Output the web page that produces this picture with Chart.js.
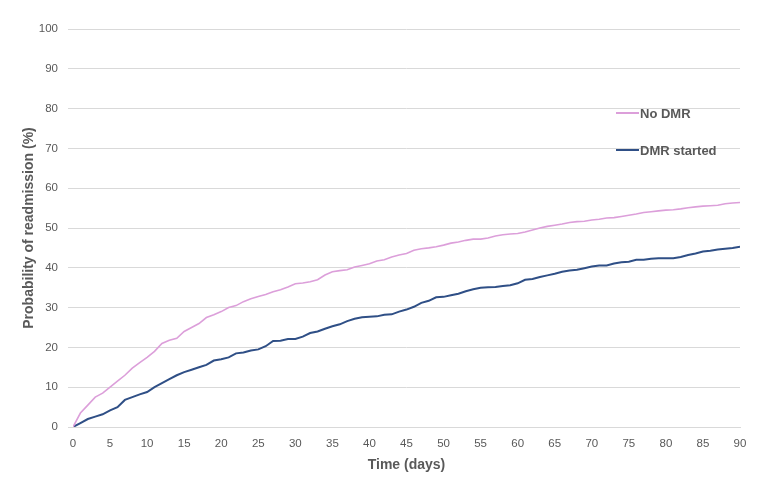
<!DOCTYPE html>
<html>
<head>
<meta charset="utf-8">
<script src="https://cdn.jsdelivr.net/npm/chart.js@4.4.1/dist/chart.umd.min.js"></script>
<style>
  html, body { margin: 0; padding: 0; background: #ffffff; }
  #wrap { width: 762px; height: 498px; position: relative; }
</style>
</head>
<body>
<div id="wrap"><canvas id="mainchart"></canvas></div>
<script>
const days = [0, 1, 2, 3, 4, 5, 6, 7, 8, 9, 10, 11, 12, 13, 14, 15, 16, 17, 18, 19,
  20, 21, 22, 23, 24, 25, 26, 27, 28, 29, 30, 31, 32, 33, 34, 35, 36, 37, 38, 39,
  40, 41, 42, 43, 44, 45, 46, 47, 48, 49, 50, 51, 52, 53, 54, 55, 56, 57, 58, 59,
  60, 61, 62, 63, 64, 65, 66, 67, 68, 69, 70, 71, 72, 73, 74, 75, 76, 77, 78, 79,
  80, 81, 82, 83, 84, 85, 86, 87, 88, 89, 90];

const noDmr = [0, 3.5, 5.5, 7.5, 8.5, 10, 11.5, 13, 14.8, 16.2,
  17.5, 19, 21, 21.8, 22.3, 24, 25, 26, 27.5, 28.2,
  29, 30, 30.5, 31.5, 32.2, 32.8, 33.3, 34, 34.5, 35.2,
  36, 36.2, 36.5, 37, 38.2, 39, 39.3, 39.5, 40.2, 40.6,
  41, 41.7, 42, 42.7, 43.2, 43.6, 44.4, 44.8, 45, 45.3,
  45.7, 46.2, 46.5, 46.9, 47.2, 47.2, 47.5, 48, 48.3, 48.5,
  48.6, 49, 49.5, 50, 50.4, 50.7, 51, 51.4, 51.6, 51.7,
  52, 52.2, 52.5, 52.6, 52.9, 53.2, 53.5, 53.9, 54.1, 54.3,
  54.5, 54.6, 54.8, 55.1, 55.3, 55.5, 55.6, 55.7, 56.1, 56.3, 56.4];

const dmrStarted = [0, 1, 2, 2.6, 3.2, 4.2, 5, 6.8, 7.5, 8.2,
  8.8, 10, 11, 12, 13, 13.8, 14.4, 15, 15.6, 16.7,
  17, 17.5, 18.5, 18.7, 19.2, 19.5, 20.3, 21.6, 21.7, 22.1,
  22.1, 22.7, 23.6, 24, 24.7, 25.3, 25.8, 26.6, 27.2, 27.6,
  27.7, 27.8, 28.2, 28.3, 29, 29.5, 30.2, 31.2, 31.7, 32.6,
  32.7, 33.1, 33.5, 34.1, 34.6, 35, 35.1, 35.2, 35.4, 35.6,
  36.1, 37, 37.2, 37.7, 38.1, 38.5, 39, 39.3, 39.5, 39.9,
  40.3, 40.6, 40.6, 41.1, 41.4, 41.5, 42, 42, 42.3, 42.4,
  42.4, 42.4, 42.7, 43.2, 43.6, 44.1, 44.3, 44.6, 44.8, 45, 45.3];

const seriesLabels = ["No DMR", "DMR started"];
const xTitle = "Time (days)";
const yTitle = "Probability of readmission (%)";

const textColor = "#595959";
const gridColor = "#d9d9d9";

function toPoints(values) {
  return values.map((v, i) => ({ x: days[i], y: v }));
}

// legend drawn inside the plot, at the right, like the original
const insideLegend = {
  id: "insideLegend",
  afterDraw(chart) {
    const { ctx, chartArea } = chart;
    const rows = [84, 121];
    ctx.save();
    chart.data.datasets.forEach((ds, i) => {
      const y = chartArea.top + rows[i];
      const x = chartArea.right - 124;
      ctx.strokeStyle = ds.borderColor;
      ctx.lineWidth = 2;
      ctx.beginPath();
      ctx.moveTo(x, y);
      ctx.lineTo(x + 23, y);
      ctx.stroke();
      ctx.fillStyle = textColor;
      ctx.font = "bold 13px 'Liberation Sans', Arial, sans-serif";
      ctx.textBaseline = "middle";
      ctx.textAlign = "left";
      ctx.fillText(ds.label, x + 24, y + 1);
    });
    ctx.restore();
  },
};

const ctx = document.getElementById("mainchart").getContext("2d");
const mainchart = new Chart(ctx, {
  type: "line",
  data: {
    datasets: [
      {
        label: seriesLabels[0],
        data: toPoints(noDmr),
        borderColor: "#dc9fda",
        borderWidth: 1.6,
        pointRadius: 0,
        tension: 0,
      },
      {
        label: seriesLabels[1],
        data: toPoints(dmrStarted),
        borderColor: "#2f4f86",
        borderWidth: 2,
        pointRadius: 0,
        tension: 0,
      },
    ],
  },
  options: {
    responsive: true,
    maintainAspectRatio: false,
    animation: false,
    layout: { padding: { left: 0, right: 22, top: 29, bottom: 0 } },
    plugins: {
      legend: { display: false },
      tooltip: { enabled: false },
    },
    scales: {
      x: {
        type: "linear",
        min: 0,
        max: 90,
        afterFit: (scale) => { scale.height = 71; },
        ticks: {
          stepSize: 5,
          color: textColor,
          padding: 10,
          maxRotation: 0,
          font: { family: "'Liberation Sans', Arial, sans-serif", size: 11.5 },
        },
        grid: { display: false, drawTicks: false },
        border: { display: true, color: gridColor, width: 1 },
        title: {
          display: true,
          text: xTitle,
          color: textColor,
          padding: { top: 0, bottom: 24 },
          font: { family: "'Liberation Sans', Arial, sans-serif", size: 14, weight: "bold" },
        },
      },
      y: {
        min: 0,
        max: 100,
        afterFit: (scale) => { scale.width = 73; },
        ticks: {
          stepSize: 10,
          color: textColor,
          padding: 10,
          font: { family: "'Liberation Sans', Arial, sans-serif", size: 11.5 },
        },
        grid: { color: gridColor, lineWidth: 1, tickLength: 5, drawTicks: true },
        border: { display: false },
        title: {
          display: true,
          text: yTitle,
          color: textColor,
          padding: { top: 21, bottom: 0 },
          font: { family: "'Liberation Sans', Arial, sans-serif", size: 14, weight: "bold" },
        },
      },
    },
  },
  plugins: [insideLegend],
});
</script>
</body>
</html>
